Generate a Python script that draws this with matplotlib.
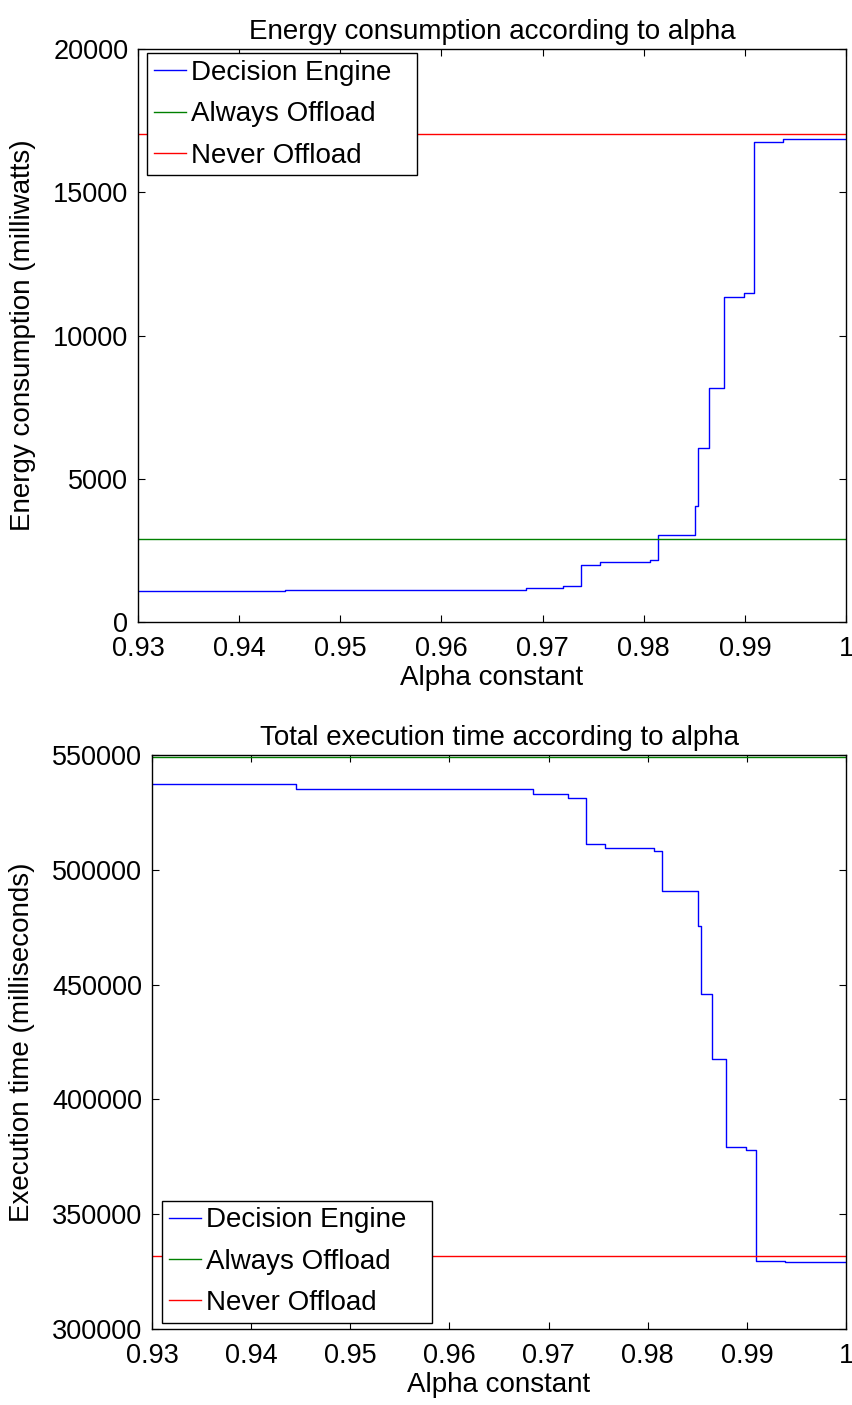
import matplotlib
matplotlib.use("Agg")
import matplotlib.pyplot as plt

plt.rcParams['font.family'] = ['Liberation Sans', 'DejaVu Sans']
plt.rcParams['font.size'] = 19.5

# alpha values where the decision engine changes its choice
alpha = [0.93, 0.9445, 0.9684, 0.9720, 0.9738, 0.9757, 0.9806, 0.9814,
         0.9851, 0.9854, 0.9865, 0.9879, 0.9899, 0.9909, 0.9938, 1.0]

# energy consumption (milliwatts)
energy_engine = [1080, 1133, 1200, 1253, 2000, 2093, 2160, 3053,
                 4050, 6080, 8160, 11360, 11467, 16760, 16867, 16867]
energy_always = 2900
energy_never = 17050

# total execution time (milliseconds)
time_engine = [537400, 535000, 533200, 531200, 511300, 509400, 508000, 490900,
               475500, 446000, 417700, 379200, 377900, 329700, 329200, 329200]
time_always = 549000
time_never = 331600

labels = ['Decision Engine', 'Always Offload', 'Never Offload']
colors = ['#0000ff', '#008000', '#ff0000']

fig = plt.figure(figsize=(8.52, 14.05), dpi=100)
ax1 = fig.add_axes([0.162, 0.5573, 0.831, 0.4078])
ax2 = fig.add_axes([0.1784, 0.0541, 0.8146, 0.4085])


def draw(ax, engine, always, never, ylim, yticks, ylabel, title, legend_loc, anchor):
    ax.step(alpha, engine, where='post', color=colors[0], lw=1.0, label=labels[0])
    ax.plot([alpha[0], alpha[-1]], [always, always], color=colors[1], lw=1.0, label=labels[1])
    ax.plot([alpha[0], alpha[-1]], [never, never], color=colors[2], lw=1.0, label=labels[2])
    ax.set_xlim(0.93, 1.0)
    ax.set_ylim(*ylim)
    ax.set_xticks([0.93, 0.94, 0.95, 0.96, 0.97, 0.98, 0.99, 1.0])
    ax.set_xticklabels(['0.93', '0.94', '0.95', '0.96', '0.97', '0.98', '0.99', '1'])
    ax.set_yticks(yticks)
    ax.set_yticklabels([str(v) for v in yticks])
    ax.tick_params(direction='in', length=5, width=0.8, top=True, right=True)
    ax.tick_params(axis='x', pad=10)
    ax.tick_params(axis='y', pad=7)
    for s in ax.spines.values():
        s.set_linewidth(1.0)
    ax.set_xlabel('Alpha constant', fontsize=20, labelpad=2)
    ax.set_ylabel(ylabel, fontsize=20, labelpad=12)
    ax.set_title(title, fontsize=20, pad=7)
    leg = ax.legend(loc=legend_loc, bbox_to_anchor=anchor, mode='expand',
                    fancybox=False, framealpha=1, edgecolor='black', fontsize=20,
                    handlelength=1.15, handletextpad=0.2, labelspacing=0.55,
                    borderpad=0.25, borderaxespad=0)
    leg.get_frame().set_linewidth(1.0)


draw(ax1, energy_engine, energy_always, energy_never, (0, 20000),
     [0, 5000, 10000, 15000, 20000], 'Energy consumption (milliwatts)',
     'Energy consumption according to alpha', 'upper left',
     (9 / 708, 0.5, 270 / 708, 0.5 - 4 / 573))

draw(ax2, time_engine, time_always, time_never, (300000, 550000),
     [300000, 350000, 400000, 450000, 500000, 550000], 'Execution time (milliseconds)',
     'Total execution time according to alpha', 'lower left',
     (10 / 694, 6 / 574, 270 / 694, 0.4))

fig.savefig('out.png', dpi=100)
